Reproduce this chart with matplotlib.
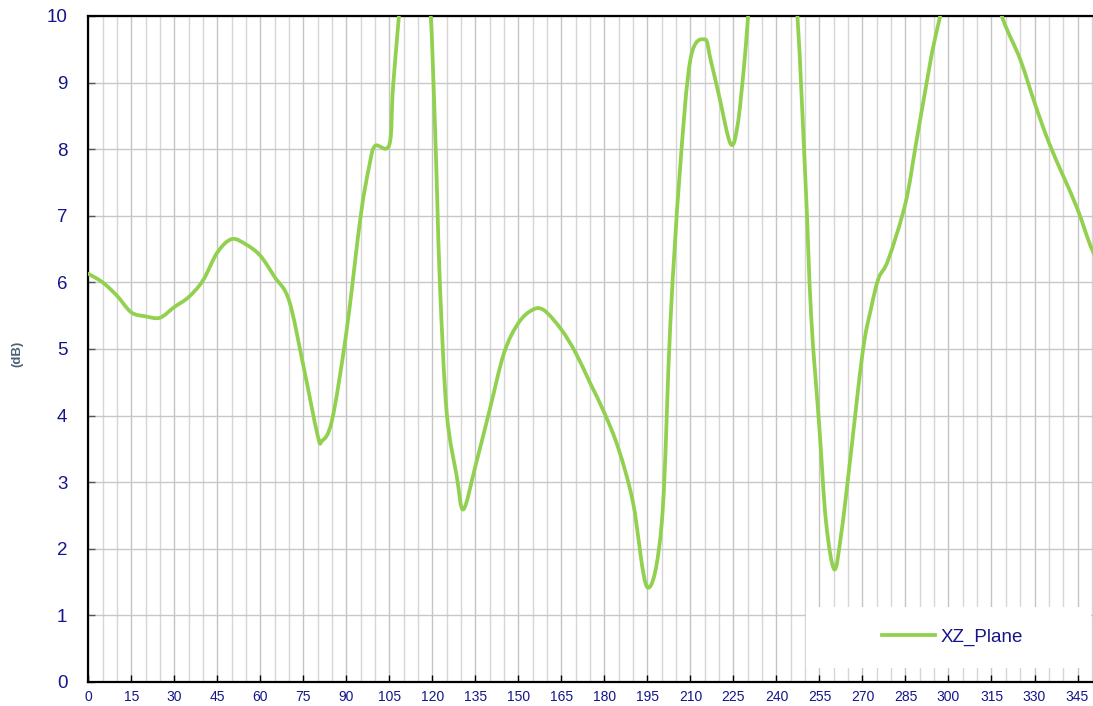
import matplotlib
matplotlib.use("Agg")
import matplotlib.pyplot as plt
from matplotlib.patches import Rectangle, PathPatch
from matplotlib.path import Path
from matplotlib.lines import Line2D
from matplotlib.ticker import MultipleLocator

plt.rcParams['font.family'] = ['Liberation Sans', 'DejaVu Sans']

# gain pattern (angle in degrees, gain in dB)
angles = [0, 5, 10, 15, 20, 25, 30, 35, 40, 45, 50, 55, 60, 65, 70, 75, 80, 81.5, 85,
          90, 95, 98, 100, 105, 106.4, 110, 115, 119, 120.6, 121.7, 122.7, 125,
          128.5, 130.8, 135, 140, 145, 150, 155, 159, 165, 170, 175, 180, 185, 190,
          195, 200, 203, 206.2, 210, 215, 217, 220, 224, 226.4, 228.7, 232,
          240, 246.5, 250, 252.1, 255, 257.3, 260.2, 262.6, 265, 270, 273, 275.6,
          279, 285, 288.7, 292.8, 295, 300, 310, 316, 319, 325, 330, 335, 340, 345,
          350, 355]
xz_plane = [6.13, 6.0, 5.8, 5.55, 5.49, 5.47, 5.63, 5.78, 6.03, 6.45, 6.65, 6.57, 6.4,
            6.08, 5.73, 4.75, 3.7, 3.62, 3.93, 5.25, 7.0, 7.75, 8.05, 8.07, 9.0, 10.7,
            12.0, 10.3, 8.74, 7.24, 5.89, 4.04, 3.09, 2.59, 3.24, 4.09, 4.94, 5.39, 5.59,
            5.58, 5.29, 4.94, 4.49, 4.04, 3.49, 2.69, 1.42, 2.39, 5.39, 7.6, 9.35,
            9.65, 9.35, 8.8, 8.08, 8.35, 9.25, 10.8, 13.0, 10.5, 7.64, 5.5, 3.8, 2.4,
            1.69, 2.23, 3.07, 4.93, 5.61, 6.06, 6.34, 7.19, 8.09, 9.1, 9.6, 10.5, 12.0,
            10.5, 9.95, 9.35, 8.7, 8.1, 7.6, 7.1, 6.5, 6.1]
x_ticks = list(range(0, 360, 15))
y_ticks = list(range(0, 11))

navy = '#15158a'
green = '#92d050'


def smooth_path(xs, ys):
    # "smoothed line" style: Bezier segments through every point
    n = len(xs)
    verts = [(xs[0], ys[0])]
    codes = [Path.MOVETO]
    for i in range(n - 1):
        i0 = max(i - 1, 0)
        i3 = min(i + 2, n - 1)
        c1 = (xs[i] + (xs[i + 1] - xs[i0]) / 6, ys[i] + (ys[i + 1] - ys[i0]) / 6)
        c2 = (xs[i + 1] - (xs[i3] - xs[i]) / 6, ys[i + 1] - (ys[i3] - ys[i]) / 6)
        verts += [c1, c2, (xs[i + 1], ys[i + 1])]
        codes += [Path.CURVE4] * 3
    return Path(verts, codes)


fig = plt.figure(figsize=(10.93, 7.06), dpi=100)
ax = fig.add_axes([88.3 / 1093, 24 / 706, 1 - 88.3 / 1093, 666 / 706])

ax.add_patch(PathPatch(smooth_path(angles, xz_plane), facecolor='none',
                       edgecolor=green, linewidth=2.7, capstyle='round',
                       joinstyle='round', zorder=4))

ax.set_xlim(0, 350.4)
ax.set_ylim(0, 10)
ax.set_xticks(x_ticks)
ax.set_yticks(y_ticks)
ax.xaxis.set_minor_locator(MultipleLocator(5))

ax.grid(which='major', axis='x', color='#c4c4c4', linewidth=1.0, zorder=0)
ax.grid(which='minor', axis='x', color='#d6d6d6', linewidth=1.0, zorder=0)
ax.grid(which='major', axis='y', color='#c8c8c8', linewidth=1.0, zorder=0)
ax.set_axisbelow(True)

ax.tick_params(axis='x', which='major', direction='in', length=5, width=1,
               color='black', labelsize=10, labelcolor=navy, pad=6)
ax.tick_params(axis='x', which='minor', length=0)
ax.tick_params(axis='y', direction='in', length=5, width=1, color='#555555',
               labelsize=13.5, labelcolor=navy, pad=15)

for side in ['left', 'top', 'bottom']:
    ax.spines[side].set_linewidth(1.6)
    ax.spines[side].set_color('black')
ax.spines['right'].set_visible(False)

fig.text(17 / 1093, 1 - 354 / 706, '(dB)', rotation=90, ha='center', va='center',
         fontsize=9.5, fontweight='bold', color='#4f5f78')

# white legend panel in the lower right
ax.add_patch(Rectangle((0.714, 0.021), 0.284, 0.092, transform=ax.transAxes,
                       facecolor='white', edgecolor='none', zorder=3))
handle = Line2D([], [], color=green, linewidth=2.7)
leg = ax.legend([handle], ['XZ_Plane'], loc='center', bbox_to_anchor=(0.86, 0.067),
                frameon=False, fontsize=13.5, handlelength=2.8, handletextpad=0.3)
for t in leg.get_texts():
    t.set_color(navy)
leg.set_zorder(5)

fig.savefig('out.png', dpi=100)
